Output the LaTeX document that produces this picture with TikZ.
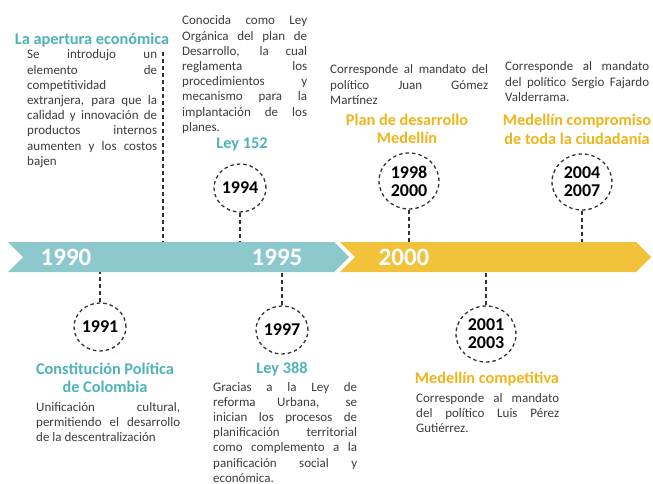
\documentclass[tikz,border=0pt]{standalone}
\usepackage{fontspec}
\setmainfont{Carlito}
\usetikzlibrary{shapes.geometric}
\definecolor{tealband}{HTML}{8DC9CC}
\definecolor{tealtitle}{HTML}{4DB3B8}
\definecolor{goldband}{HTML}{F2C23A}
\definecolor{goldtitle}{HTML}{EFB51A}
\definecolor{bodygray}{HTML}{3C3C3C}
\definecolor{ringgray}{HTML}{333333}
\hyphenpenalty=10000
\tolerance=10000
\begin{document}
\begin{tikzpicture}[x=1pt,y=-1pt,
  yearring/.style={ellipse,draw=ringgray,line width=1.3pt,dash pattern=on 3.5pt off 3pt,minimum width=52pt,minimum height=48pt,inner sep=0pt,align=center,font=\bfseries\fontsize{18}{18}\selectfont},
  widering/.style={yearring,minimum width=60pt,minimum height=56pt},
  leader/.style={draw=ringgray,line width=1.3pt,dash pattern=on 4pt off 3pt},
  bandyear/.style={text=white,font=\bfseries\fontsize{25}{25}\selectfont,inner sep=0pt},
  tealhead/.style={text=tealtitle,font=\bfseries\fontsize{16.3}{18}\selectfont,align=center,inner sep=0pt,anchor=base},
  goldhead/.style={tealhead,text=goldtitle},
  notetext/.style={text=bodygray,font=\fontsize{13}{15.2}\selectfont,align=justify,inner sep=0pt,anchor=base west}]
\useasboundingbox (0,0) rectangle (653,484);
% band
\fill[tealband] (8,242) -- (334,242) -- (349,257) -- (334,272) -- (8,272) -- (23,257) -- cycle;
\fill[goldband] (340,242) -- (636,242) -- (651,257) -- (636,272) -- (340,272) -- (355,257) -- cycle;
\node[bandyear] (y1990) at (66,257) {1990};
\node[bandyear] (y1995) at (277,257) {1995};
\node[bandyear] (y2000) at (404,257) {2000};
% points on the band
\coordinate (top163) at (163,242);
\coordinate (top240) at (240,242);
\coordinate (top409) at (409,242);
\coordinate (top582) at (582,242);
\coordinate (bot100) at (100,272);
\coordinate (bot282) at (282,272);
\coordinate (bot486) at (486,272);
\coordinate (free163) at (163,52);
% rings
\node[yearring] (r1994) at (240,188) {1994};
\node[widering] (r1998) at (409,181) {1998\\2000};
\node[widering] (r2004) at (582,182) {2004\\2007};
\node[yearring] (r1991) at (100,327) {1991};
\node[yearring] (r1997) at (282,330) {1997};
\node[widering] (r2001) at (486,334) {2001\\2003};
\draw[leader] (free163) -- (top163);
\foreach \r/\b in {r1994/top240,r1998/top409,r2004/top582,r1991/bot100,r1997/bot282,r2001/bot486}
  \draw[leader] (\r) -- (\b);
% headings (base = last line)
\node[tealhead] (h1990) at (92,45) {La apertura económica};
\node[tealhead] (h1994) at (242,148) {Ley 152};
\node[goldhead] (h1998) at (407,143) {Plan de desarrollo\\Medellín};
\node[goldhead] (h2004) at (577,144) {Medellín compromiso\\de toda la ciudadanía};
\node[tealhead] (h1991) at (105,392) {Constitución Política\\de Colombia};
\node[tealhead] (h1997) at (282,373) {Ley 388};
\node[goldhead] (h2001) at (487,383) {Medellín competitiva};
% notes
\node[notetext,text width=130pt] (n1990) at (27,59) {Se introdujo un\linebreak elemento de\linebreak competitividad\linebreak extranjera, para que la\linebreak calidad y innovación de\linebreak productos internos\linebreak aumenten y los costos\linebreak bajen};
\node[notetext,text width=125pt] (n1994) at (182,25) {Conocida como Ley\linebreak Orgánica del plan de\linebreak Desarrollo, la cual\linebreak reglamenta los\linebreak procedimientos y\linebreak mecanismo para la\linebreak implantación de los\linebreak planes.};
\node[notetext,text width=158pt] (n1998) at (330,74) {Corresponde al mandato del\linebreak político Juan Gómez\linebreak Martínez};
\node[notetext,text width=144pt] (n2004) at (505,71) {Corresponde al mandato\linebreak del político Sergio Fajardo\linebreak Valderrama.};
\node[notetext,text width=144pt] (n1991) at (36,411) {Unificación cultural,\linebreak permitiendo el desarrollo\linebreak de la descentralización};
\node[notetext,text width=144pt] (n1997) at (213,391) {Gracias a la Ley de\linebreak reforma Urbana, se\linebreak inician los procesos de\linebreak planificación territorial\linebreak como complemento a la\linebreak panificación social y\linebreak económica.};
\node[notetext,text width=143pt] (n2001) at (416,402) {Corresponde al mandato\linebreak del político Luis Pérez\linebreak Gutiérrez.};
\end{tikzpicture}
\end{document}
